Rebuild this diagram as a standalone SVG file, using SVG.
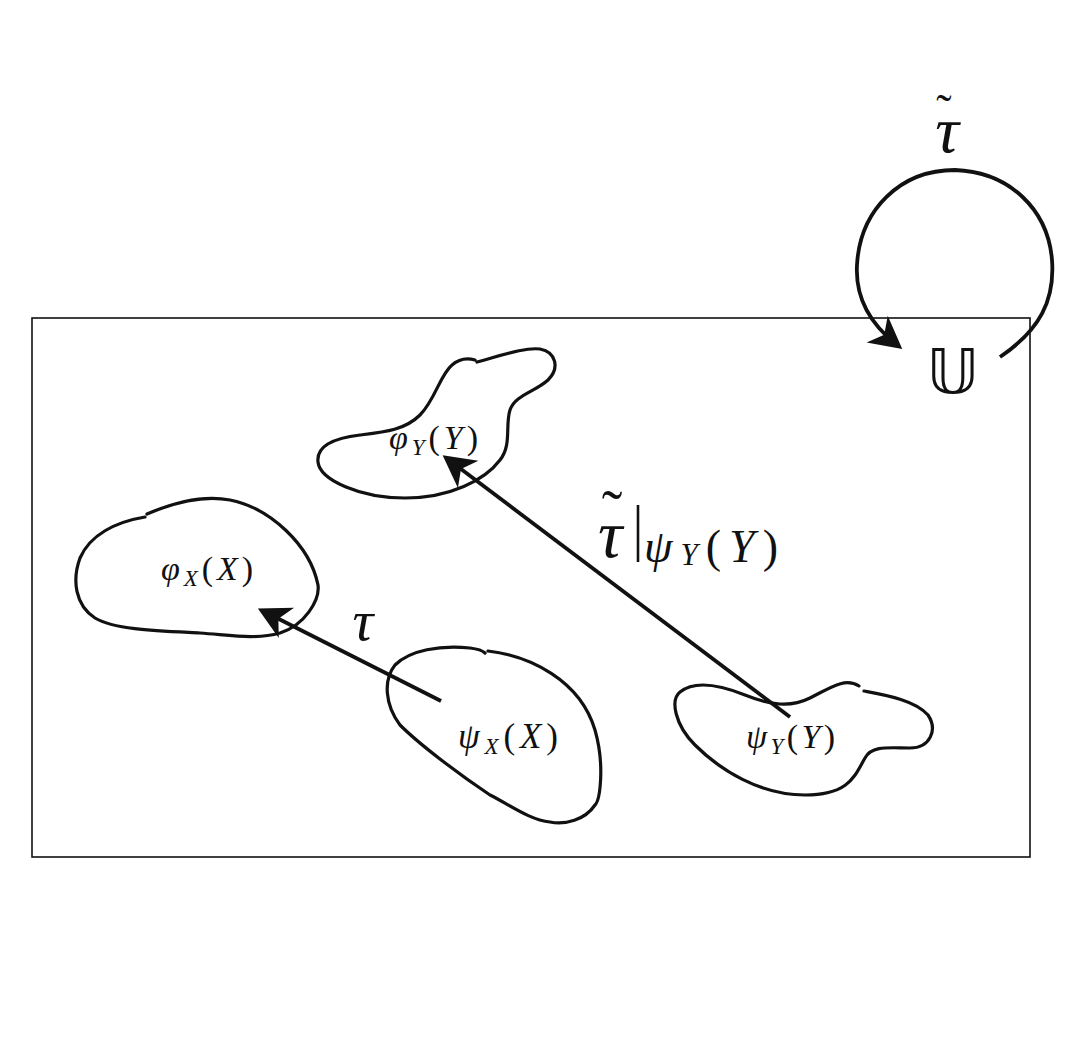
<svg xmlns="http://www.w3.org/2000/svg" width="1076" height="1063" viewBox="0 0 1076 1063">
<defs>
<style>
.blob{fill:none;stroke:#111;stroke-width:3.2;stroke-linejoin:round;stroke-linecap:round}
.arr{fill:none;stroke:#111;stroke-width:3.8}
.lbl{font-family:"Liberation Serif","DejaVu Serif",serif;font-style:italic;fill:#111}
.up{font-style:normal}
.sub{font-size:23px}
</style>
<marker id="ah" markerUnits="userSpaceOnUse" viewBox="-36 -20 40 40" markerWidth="40" markerHeight="40" refX="-8" refY="0" orient="auto">
<path d="M0,0 L-32,-17 L-23,0 L-32,17 Z" fill="#111"/>
</marker>
</defs>
<rect width="1076" height="1063" fill="#fff"/>
<rect id="universe" x="32" y="318" width="998" height="539" fill="none" stroke="#111" stroke-width="1.6"/>

<g id="phiY">
<path class="blob" d="M 477,362 C 500,356 525,347 540,349 C 556,352 560,368 548,380 C 535,392 515,395 510,410 C 505,425 512,445 500,460 C 485,480 450,498 405,498 C 360,498 320,480 318,462 C 316,445 335,438 360,435 C 385,432 405,430 420,415 C 435,400 440,375 452,365 C 460,358 468,358 475,360"/>
<text class="lbl" font-size="34" x="389" y="449" textLength="89" lengthAdjust="spacing">φ<tspan class="sub" dy="6">Y</tspan><tspan class="up" dy="-6">(</tspan>Y<tspan class="up">)</tspan></text>
</g>

<g id="phiX">
<path class="blob" d="M 147,514 C 175,502 205,495 230,500 C 270,508 310,545 318,585 C 320,600 305,625 280,633 C 255,640 230,635 200,633 C 160,631 115,630 95,618 C 75,605 72,580 80,558 C 90,535 115,522 145,517"/>
<text class="lbl" font-size="34" x="161" y="580" textLength="92" lengthAdjust="spacing">φ<tspan class="sub" dy="6">X</tspan><tspan class="up" dy="-6">(</tspan>X<tspan class="up">)</tspan></text>
</g>

<g id="psiX">
<path class="blob" d="M 488,651 C 530,656 580,680 595,730 C 605,765 600,800 595,805 C 585,820 565,825 550,822 C 530,820 510,805 490,795 C 460,775 420,745 400,725 C 385,705 383,680 395,665 C 410,650 440,645 470,648 C 478,649 482,650 485,653"/>
<text class="lbl" font-size="35" x="458" y="748" textLength="100" lengthAdjust="spacing">ψ<tspan class="sub" dy="6">X</tspan><tspan class="up" dy="-6">(</tspan>X<tspan class="up">)</tspan></text>
</g>

<g id="psiY">
<path class="blob" d="M 864,691 C 885,695 915,700 928,715 C 938,730 930,748 910,748 C 890,748 872,745 865,758 C 855,775 850,795 805,795 C 760,795 720,770 695,745 C 675,725 670,700 680,692 C 695,680 720,685 745,695 C 770,705 790,708 810,698 C 830,688 845,677 859,686"/>
<text class="lbl" font-size="34" x="746" y="748" textLength="89" lengthAdjust="spacing">ψ<tspan class="sub" dy="6">Y</tspan><tspan class="up" dy="-6">(</tspan>Y<tspan class="up">)</tspan></text>
</g>

<g id="U">
<text x="953" y="393" font-family="DejaVu Sans, sans-serif" font-size="63" text-anchor="middle" fill="#111">𝕌</text>
</g>

<g id="connectors">
<path class="arr" d="M 441,701 L 265,612" marker-end="url(#ah)"/>
<path class="arr" d="M 790,717 L 449,460" marker-end="url(#ah)"/>
<path class="arr" d="M 1000,357 C 1040,330 1055,300 1052,260 C 1048,210 1010,172 955,170 C 900,170 860,210 857,265 C 855,300 872,325 896,344" marker-end="url(#ah)"/>
</g>

<g id="labels">
<text class="lbl" x="363" y="640" font-size="58" text-anchor="middle">τ</text>
<text class="lbl up" x="944" y="126" font-size="46" text-anchor="middle">˜</text>
<text class="lbl" x="947" y="152" font-size="66" text-anchor="middle">τ</text>
<text class="lbl up" x="612" y="533" font-size="62" text-anchor="middle">˜</text>
<text class="lbl" x="598" y="557" font-size="68">τ</text>
<line x1="638" y1="505" x2="638" y2="562" stroke="#111" stroke-width="2.6"/>
<text class="lbl" font-size="46" x="644" y="562" textLength="134" lengthAdjust="spacing">ψ<tspan font-size="31" dy="3">Y</tspan><tspan class="up" dy="-3">(</tspan>Y<tspan class="up">)</tspan></text>
</g>
</svg>
